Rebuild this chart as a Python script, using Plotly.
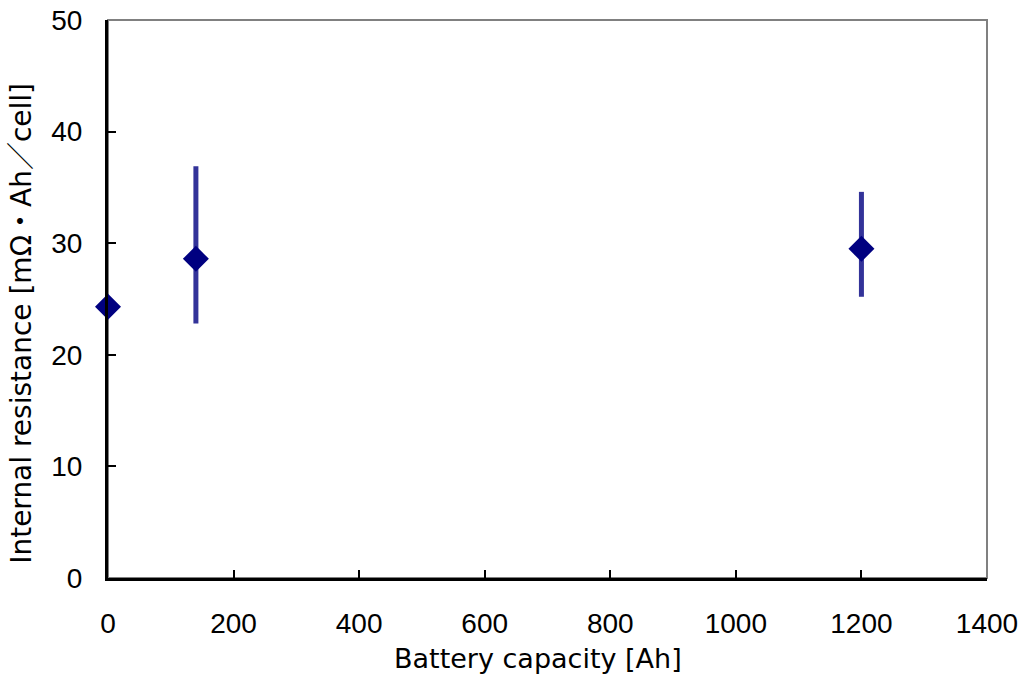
import plotly.graph_objects as go

capacity = [0, 140, 1200]
resistance = [24.3, 28.6, 29.5]
err_plus = [0, 8.3, 5.1]
err_minus = [0, 5.8, 4.3]

x_ticks = [0, 200, 400, 600, 800, 1000, 1200, 1400]
y_ticks = [0, 10, 20, 30, 40, 50]

x_title = "Battery capacity [Ah]"
y_title = "Internal resistance [mΩ・Ah／cell]"

tick_font = dict(family="Liberation Sans, Arial, sans-serif", size=28, color="black")
title_font = dict(family="DejaVu Sans, Noto Sans CJK JP, sans-serif", size=27, color="black")

fig = go.Figure()
fig.add_trace(go.Scatter(
    x=capacity, y=resistance, mode="markers",
    marker=dict(symbol="diamond", size=20, color="#000080", line=dict(width=0)),
    error_y=dict(type="data", symmetric=False, array=err_plus, arrayminus=err_minus,
                 color="#333399", thickness=5, width=0),
    cliponaxis=False, showlegend=False,
))

fig.update_layout(
    width=1025, height=675,
    margin=dict(l=108, r=38, t=20, b=97, autoexpand=False),
    paper_bgcolor="white", plot_bgcolor="white",
    font=dict(family="DejaVu Sans, sans-serif", color="black"),
    shapes=[dict(type="rect", xref="paper", yref="paper", x0=0, y0=0, x1=1, y1=1,
                 line=dict(color="#808080", width=2), layer="below")],
    annotations=[
        dict(text=x_title, xref="paper", yref="paper", x=0.489, y=-0.145,
             xanchor="center", yanchor="middle", showarrow=False, font=title_font),
        dict(text=y_title, xref="paper", yref="paper", x=-0.098, y=0.457,
             xanchor="center", yanchor="middle", showarrow=False, textangle=-90,
             font=dict(family="DejaVu Sans, Noto Sans CJK JP, sans-serif", size=28, color="black")),
    ],
)
fig.update_xaxes(
    range=[0, 1400], tickvals=x_ticks, ticktext=[str(v) for v in x_ticks],
    showgrid=False, zeroline=False, showline=True, linecolor="black", linewidth=3,
    ticks="inside", ticklen=8, tickwidth=2, tickcolor="black",
    tickfont=tick_font, ticklabelstandoff=18, automargin=False,
)
fig.update_yaxes(
    range=[0, 50], tickvals=y_ticks, ticktext=[str(v) for v in y_ticks],
    showgrid=False, zeroline=False, showline=True, linecolor="black", linewidth=3,
    ticks="inside", ticklen=8, tickwidth=2, tickcolor="black",
    tickfont=tick_font, ticklabelstandoff=17, automargin=False,
)

fig.write_html("out.html")
